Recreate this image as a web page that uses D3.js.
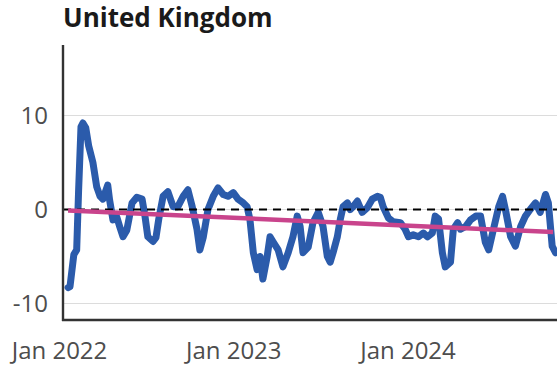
<!DOCTYPE html>
<html>
<head>
<meta charset="utf-8">
<script src="https://cdn.jsdelivr.net/npm/d3@7"></script>
<style>
  html, body { margin: 0; padding: 0; background: #fff; }
  svg { display: block; }
  text { font-family: "Open Sans", "Noto Sans", sans-serif; }
</style>
</head>
<body>
<svg id="chart" width="557" height="368"></svg>
<script>
const title = "United Kingdom";

const dates = [
  "2022-01-19","2022-01-23","2022-01-31","2022-02-06","2022-02-10","2022-02-15","2022-02-19","2022-02-25",
  "2022-03-03","2022-03-12","2022-03-20","2022-03-27","2022-04-02","2022-04-08","2022-04-12","2022-04-16",
  "2022-04-23","2022-05-01","2022-05-07","2022-05-14","2022-05-22","2022-06-02","2022-06-12","2022-06-23",
  "2022-06-29","2022-07-05","2022-07-16","2022-07-22","2022-07-28","2022-08-06","2022-08-16","2022-08-27",
  "2022-09-06","2022-09-17","2022-09-27","2022-10-06","2022-10-16","2022-10-22","2022-10-29","2022-11-08",
  "2022-11-19","2022-11-29","2022-12-10","2022-12-20","2022-12-31","2023-01-10","2023-01-21","2023-01-29",
  "2023-02-04","2023-02-11","2023-02-19","2023-02-25","2023-03-03","2023-03-12","2023-03-18","2023-03-24",
  "2023-04-04","2023-04-14","2023-04-25","2023-05-05","2023-05-14","2023-05-20","2023-05-26","2023-06-06",
  "2023-06-16","2023-06-27","2023-07-07","2023-07-16","2023-07-22","2023-07-28","2023-08-06","2023-08-12",
  "2023-08-18","2023-08-27","2023-09-02","2023-09-08","2023-09-17","2023-09-27","2023-10-08","2023-10-18",
  "2023-10-29","2023-11-04","2023-11-10","2023-11-21","2023-12-01","2023-12-16","2023-12-26","2024-01-02",
  "2024-01-12","2024-01-23","2024-02-02","2024-02-11","2024-02-21","2024-02-27","2024-03-05","2024-03-13",
  "2024-03-19","2024-03-30","2024-04-05","2024-04-14","2024-04-20","2024-05-01","2024-05-11","2024-05-22",
  "2024-06-01","2024-06-11","2024-06-18","2024-06-28","2024-07-09","2024-07-17","2024-07-23","2024-08-03",
  "2024-08-13","2024-08-24","2024-09-03","2024-09-13","2024-09-24","2024-10-04","2024-10-15","2024-10-21",
  "2024-10-29","2024-11-05"
];

const values = [
  -8.3,-8.2,-4.8,-4.3,2.0,8.8,9.2,8.7,
  6.8,5.0,2.4,1.4,1.1,2.0,2.6,1.0,
  -1.1,-0.8,-1.8,-2.9,-2.2,0.7,1.3,1.1,
  -0.7,-2.9,-3.4,-3.0,-1.0,1.4,1.9,0.3,
  0.3,1.4,2.1,0.3,-2.1,-4.3,-3.0,0.0,
  1.4,2.3,1.6,1.4,1.8,1.1,0.7,0.3,
  -1.1,-4.6,-6.4,-5.0,-7.4,-5.0,-2.9,-3.4,
  -4.3,-6.1,-4.6,-2.9,-0.7,-1.8,-4.6,-4.0,
  -1.4,-0.3,-1.8,-5.0,-5.6,-4.6,-2.9,-1.1,
  0.3,0.7,0.0,0.3,0.9,-0.3,0.2,1.1,
  1.4,1.3,0.3,-0.9,-1.3,-1.4,-2.1,-2.9,
  -2.7,-2.9,-2.5,-2.9,-2.5,-0.7,-1.0,-4.6,
  -6.1,-5.6,-2.1,-1.4,-2.1,-1.8,-1.1,-0.7,
  -0.7,-3.5,-4.3,-2.1,0.3,1.4,0.0,-2.9,
  -3.9,-1.8,-0.7,0.0,0.7,-0.3,1.6,0.7,
  -3.9,-4.6
];

const trendDates = ["2022-01-19", "2024-10-31"];
const trendValues = [-0.1, -2.4];

const yTicks = [10, 0, -10];
const xTickDates = ["2022-01-01", "2023-01-01", "2024-01-01"];
const xTickLabels = ["Jan 2022", "Jan 2023", "Jan 2024"];

const parse = d3.timeParse("%Y-%m-%d");
const series = dates.map((d, i) => ({ date: parse(d), value: values[i] }));
const trend = trendDates.map((d, i) => ({ date: parse(d), value: trendValues[i] }));

const plotLeft = 63, plotRight = 557, plotTop = 45, plotBottom = 320;

const x = d3.scaleTime()
  .domain([parse("2022-01-01"), parse("2024-01-01")])
  .range([59.5, 408]);

const y = d3.scaleLinear()
  .domain([-10, 10])
  .range([303.5, 115.5]);

const svg = d3.select("#chart");

svg.append("defs").append("clipPath").attr("id", "clip")
  .append("rect")
  .attr("x", plotLeft).attr("y", plotTop)
  .attr("width", plotRight - plotLeft).attr("height", plotBottom - plotTop);

// Gridlines
svg.append("g")
  .selectAll("line")
  .data(yTicks)
  .join("line")
  .attr("x1", plotLeft).attr("x2", plotRight)
  .attr("y1", d => y(d)).attr("y2", d => y(d))
  .attr("stroke", "#dcdcdc").attr("stroke-width", 1);

const plot = svg.append("g").attr("clip-path", "url(#clip)");

const line = d3.line().x(d => x(d.date)).y(d => y(d.value));

plot.append("path")
  .datum(series)
  .attr("d", line)
  .attr("fill", "none")
  .attr("stroke", "#2b5bab")
  .attr("stroke-width", 7)
  .attr("stroke-linejoin", "round")
  .attr("stroke-linecap", "round");

// Zero dashed line
plot.append("line")
  .attr("x1", plotLeft).attr("x2", plotRight)
  .attr("y1", y(0)).attr("y2", y(0))
  .attr("stroke", "#000").attr("stroke-width", 2.2)
  .attr("stroke-dasharray", "8,6");

plot.append("path")
  .datum(trend)
  .attr("d", line)
  .attr("fill", "none")
  .attr("stroke", "#c9448c")
  .attr("stroke-width", 4.5);

// Axes lines
svg.append("line")
  .attr("x1", plotLeft).attr("x2", plotLeft)
  .attr("y1", plotTop).attr("y2", plotBottom + 1)
  .attr("stroke", "#333").attr("stroke-width", 2.4);
svg.append("line")
  .attr("x1", plotLeft - 1).attr("x2", plotRight)
  .attr("y1", plotBottom).attr("y2", plotBottom)
  .attr("stroke", "#333").attr("stroke-width", 2.4);

// Y tick labels
svg.append("g")
  .selectAll("text")
  .data(yTicks)
  .join("text")
  .attr("x", 48)
  .attr("y", d => y(d))
  .attr("dy", "0.35em")
  .attr("text-anchor", "end")
  .attr("font-size", 24)
  .attr("fill", "#4d4d4d")
  .text(d => d);

// X tick labels
svg.append("g")
  .selectAll("text")
  .data(xTickDates)
  .join("text")
  .attr("x", d => x(parse(d)))
  .attr("y", 359)
  .attr("text-anchor", "middle")
  .attr("font-size", 24)
  .attr("fill", "#4d4d4d")
  .text((d, i) => xTickLabels[i]);

// Title
svg.append("text")
  .attr("x", 63)
  .attr("y", 27)
  .attr("font-size", 26)
  .attr("font-weight", "bold")
  .attr("fill", "#1a1a1a")
  .text(title);
</script>
</body>
</html>
